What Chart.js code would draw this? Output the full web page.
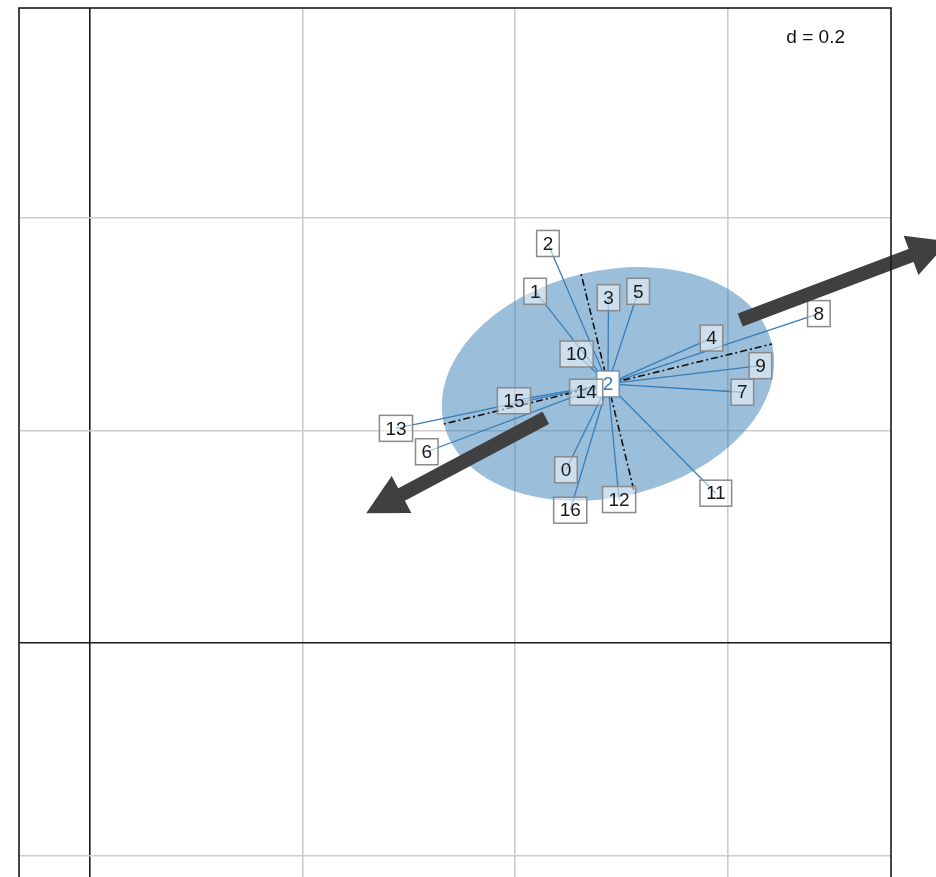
<!DOCTYPE html>
<html>
<head>
<meta charset="utf-8">
<script src="https://cdn.jsdelivr.net/npm/chart.js@4.4.1/dist/chart.umd.min.js"></script>
<style>
  html, body { margin: 0; padding: 0; background: #fff; overflow: hidden; }
  #wrap { width: 936px; height: 1000px; }
</style>
</head>
<body>
<div id="wrap"><canvas id="plot" width="936" height="1000"></canvas></div>
<script>
// Individual scores (labelled boxes)
const pointLabels = ['0', '1', '2', '3', '4', '5', '6', '7', '8', '9', '10', '11', '12', '13', '14', '15', '16'];
const pointX = [0.448, 0.419, 0.431, 0.488, 0.585, 0.516, 0.317, 0.614, 0.686, 0.631, 0.458, 0.589, 0.498, 0.288, 0.467, 0.399, 0.452];
const pointY = [0.163, 0.331, 0.376, 0.325, 0.287, 0.331, 0.180, 0.236, 0.310, 0.261, 0.272, 0.141, 0.135, 0.202, 0.236, 0.228, 0.125];

// Class centroid and its dispersion ellipse
const classLabel = '2';
const centroid = [0.4875, 0.2438];
const ellipseAxes = [0.159, 0.1064];   // semi-major, semi-minor
const ellipseAngle = 13.7;             // degrees

// Variable arrows: [x0, y0, x1, y1]
const arrows = [
  [0.612, 0.304, 0.808, 0.378],
  [0.429, 0.212, 0.260, 0.122]
];

// Grid positions and extent
const xGrid = [0, 0.2, 0.4, 0.6];
const yGrid = [-0.2, 0, 0.2, 0.4];
const xRange = [-0.0668, 0.7539];
const yRange = [-0.3002, 0.5976];
const gridLabel = 'd = 0.2';

const BLUE = '#377EB8';
const FONT = '19px "Liberation Sans", Arial, sans-serif';

// one short segment per individual, centroid -> point
const datasets = pointLabels.map((lab, i) => ({
  label: lab,
  data: [{ x: centroid[0], y: centroid[1] }, { x: pointX[i], y: pointY[i] }],
  showLine: true,
  borderColor: BLUE,
  borderWidth: 1.3,
  pointRadius: 0,
  clip: false
}));

function boxLabel(ctx, text, x, y, fill, stroke, color) {
  ctx.font = FONT;
  const w = ctx.measureText(text).width + 12;
  const h = 26;
  ctx.fillStyle = fill;
  ctx.fillRect(x - w / 2, y - h / 2, w, h);
  ctx.strokeStyle = stroke;
  ctx.lineWidth = 1.5;
  ctx.strokeRect(x - w / 2, y - h / 2, w, h);
  ctx.fillStyle = color;
  ctx.textAlign = 'center';
  ctx.textBaseline = 'middle';
  ctx.fillText(text, x, y + 1);
}

function drawArrow(ctx, x0, y0, x1, y1) {
  const ang = Math.atan2(y1 - y0, x1 - x0);
  const headLen = 40, headHalf = 21;
  const bx = x1 - headLen * Math.cos(ang);
  const by = y1 - headLen * Math.sin(ang);
  ctx.strokeStyle = '#404040';
  ctx.fillStyle = '#404040';
  ctx.lineWidth = 14;
  ctx.lineCap = 'butt';
  ctx.beginPath();
  ctx.moveTo(x0, y0);
  ctx.lineTo(bx + 2 * Math.cos(ang), by + 2 * Math.sin(ang));
  ctx.stroke();
  ctx.beginPath();
  ctx.moveTo(x1, y1);
  ctx.lineTo(bx + headHalf * Math.sin(ang), by - headHalf * Math.cos(ang));
  ctx.lineTo(bx - headHalf * Math.sin(ang), by + headHalf * Math.cos(ang));
  ctx.closePath();
  ctx.fill();
}

const classPlugin = {
  id: 'classPlugin',
  beforeDatasetsDraw(chart) {
    const { ctx, scales: { x, y } } = chart;
    const cx = x.getPixelForValue(centroid[0]);
    const cy = y.getPixelForValue(centroid[1]);
    const rx = x.getPixelForValue(ellipseAxes[0]) - x.getPixelForValue(0);
    const ry = x.getPixelForValue(ellipseAxes[1]) - x.getPixelForValue(0);
    ctx.save();
    ctx.fillStyle = 'rgba(55, 126, 184, 0.5)';
    ctx.beginPath();
    ctx.ellipse(cx, cy, rx, ry, -ellipseAngle * Math.PI / 180, 0, 2 * Math.PI);
    ctx.fill();
    ctx.restore();
  },
  afterDatasetsDraw(chart) {
    const { ctx, chartArea, scales: { x, y } } = chart;
    const cx = x.getPixelForValue(centroid[0]);
    const cy = y.getPixelForValue(centroid[1]);
    const rx = x.getPixelForValue(ellipseAxes[0]) - x.getPixelForValue(0);
    const ry = x.getPixelForValue(ellipseAxes[1]) - x.getPixelForValue(0);
    const t = -ellipseAngle * Math.PI / 180;
    ctx.save();

    // ellipse axes, dot-dash
    ctx.strokeStyle = '#111';
    ctx.lineWidth = 1.6;
    ctx.setLineDash([2, 3, 7, 3]);
    ctx.beginPath();
    ctx.moveTo(cx - rx * Math.cos(t), cy - rx * Math.sin(t));
    ctx.lineTo(cx + rx * Math.cos(t), cy + rx * Math.sin(t));
    ctx.moveTo(cx + ry * Math.sin(t), cy - ry * Math.cos(t));
    ctx.lineTo(cx - ry * Math.sin(t), cy + ry * Math.cos(t));
    ctx.stroke();
    ctx.setLineDash([]);

    // class label, then individual labels
    boxLabel(ctx, classLabel, cx, cy, '#ffffff', '#6f93b8', BLUE);
    pointLabels.forEach((lab, i) => {
      boxLabel(ctx, lab, x.getPixelForValue(pointX[i]), y.getPixelForValue(pointY[i]),
        'rgba(255, 255, 255, 0.5)', '#8a8a8a', '#1a1a1a');
    });

    arrows.forEach(a => drawArrow(ctx,
      x.getPixelForValue(a[0]), y.getPixelForValue(a[1]),
      x.getPixelForValue(a[2]), y.getPixelForValue(a[3])));

    // grid size note
    ctx.font = FONT;
    ctx.fillStyle = '#111';
    ctx.textAlign = 'right';
    ctx.textBaseline = 'middle';
    ctx.fillText(gridLabel, chartArea.right - 46, chartArea.top + 30);

    // frame
    ctx.strokeStyle = '#1a1a1a';
    ctx.lineWidth = 1.6;
    ctx.strokeRect(chartArea.left, chartArea.top, chartArea.right - chartArea.left, chartArea.bottom - chartArea.top);
    ctx.restore();
  }
};

const gridColor = c => (c.tick && c.tick.value === 0) ? '#1a1a1a' : '#cccccc';

new Chart(document.getElementById('plot'), {
  type: 'scatter',
  data: { datasets },
  plugins: [classPlugin],
  options: {
    responsive: false,
    animation: false,
    events: [],
    layout: { padding: { left: 19, right: 45, top: 8, bottom: 38 } },
    plugins: { legend: { display: false }, tooltip: { enabled: false } },
    scales: {
      x: {
        type: 'linear',
        min: xRange[0],
        max: xRange[1],
        afterBuildTicks: s => { s.ticks = xGrid.map(v => ({ value: v })); },
        ticks: { display: false },
        grid: { color: gridColor, lineWidth: 1.6, drawTicks: false },
        border: { display: false }
      },
      y: {
        type: 'linear',
        min: yRange[0],
        max: yRange[1],
        afterBuildTicks: s => { s.ticks = yGrid.map(v => ({ value: v })); },
        ticks: { display: false },
        grid: { color: gridColor, lineWidth: 1.6, drawTicks: false },
        border: { display: false }
      }
    }
  }
});
</script>
</body>
</html>
